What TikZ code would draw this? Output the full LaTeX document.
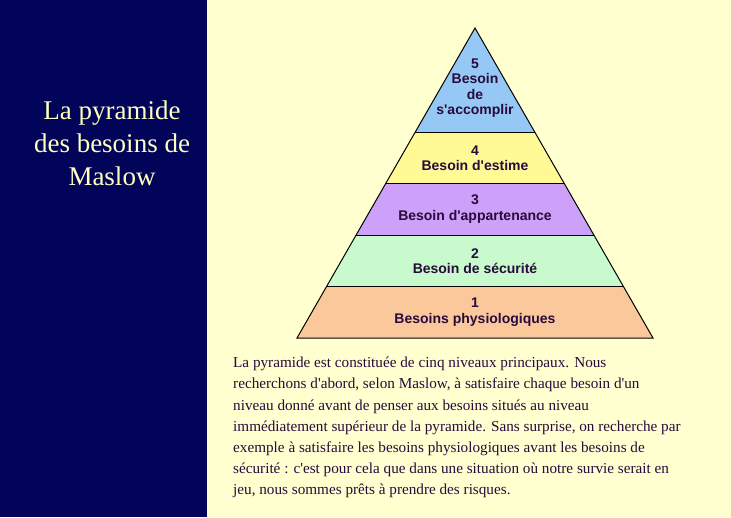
\documentclass[tikz,border=0pt]{standalone}
\usepackage{fontspec}
\setmainfont{Liberation Serif}
\newfontfamily\arialfont{Liberation Sans}
\usetikzlibrary{positioning}
\definecolor{navy}{RGB}{2,4,90}
\definecolor{cream}{RGB}{255,255,208}
\definecolor{titlecol}{RGB}{255,255,190}
\definecolor{lvlblue}{RGB}{150,200,245}
\definecolor{lvlyellow}{RGB}{255,250,150}
\definecolor{lvlpurple}{RGB}{205,160,250}
\definecolor{lvlgreen}{RGB}{200,250,205}
\definecolor{lvlpeach}{RGB}{250,200,155}
\definecolor{txtcol}{RGB}{40,10,60}
\newcommand{\q}{\textquotesingle}
\tikzset{
  level/.style={draw=black,line width=1pt},
  lbl/.style={font=\arialfont\bfseries\fontsize{14}{15.5}\selectfont,align=center,text=txtcol}
}
\begin{document}
\begin{tikzpicture}[x=1pt,y=-1pt]
        \useasboundingbox (0,0) rectangle (731,517);
        \fill[cream] (0,0) rectangle (731,517);
        \fill[navy] (0,0) rectangle (207,517);

        % title
        \node[text=titlecol,font=\fontsize{27}{33}\selectfont,align=center] (title) at (112,143)
            {La pyramide\\des besoins de\\Maslow};

        % pyramid
        \coordinate (apex) at (475,28);
        \coordinate (bl) at (297,338);
        \coordinate (br) at (653,338);
        \begin{scope}
          \clip (apex) -- (bl) -- (br) -- cycle;
          \foreach \ya/\yb/\c in {20/132/lvlblue,132/183/lvlyellow,183/235/lvlpurple,235/286/lvlgreen,286/340/lvlpeach}
            \fill[\c] (280,\ya) rectangle (670,\yb);
        \end{scope}
        \foreach \y/\xl/\xr in {132/415.3/534.7,183/386/564,235/356.1/593.9,286/326.9/623.1}
          \draw[level] (\xl,\y) -- (\xr,\y);
        \draw[level,line join=miter] (apex) -- (bl) -- (br) -- cycle;

        \node[lbl] (l5) at (475,88) {5\\Besoin\\de\\s\q accomplir};
        \node[lbl] (l4) at (475,158) {4\\Besoin d\q estime};
        \node[lbl] (l3) at (475,209) {3\\Besoin d\q appartenance};
        \node[lbl] (l2) at (475,261) {2\\Besoin de sécurité};
        \node[lbl] (l1) at (475,312) {1\\Besoins physiologiques};

        % explanation
        \node[anchor=north west,align=left,inner sep=0pt,text=txtcol,
              font=\fontsize{15.2}{21.2}\selectfont] (para) at (233,357)
            {La pyramide est constituée de cinq niveaux principaux. Nous\\
             recherchons d\q abord, selon Maslow, à satisfaire chaque besoin d\q un\\
             niveau donné avant de penser aux besoins situés au niveau\\
             immédiatement supérieur de la pyramide. Sans surprise, on recherche par\\
             exemple à satisfaire les besoins physiologiques avant les besoins de\\
             sécurité : c\q est pour cela que dans une situation où notre survie serait en\\
             jeu, nous sommes prêts à prendre des risques.};
\end{tikzpicture}
\end{document}
